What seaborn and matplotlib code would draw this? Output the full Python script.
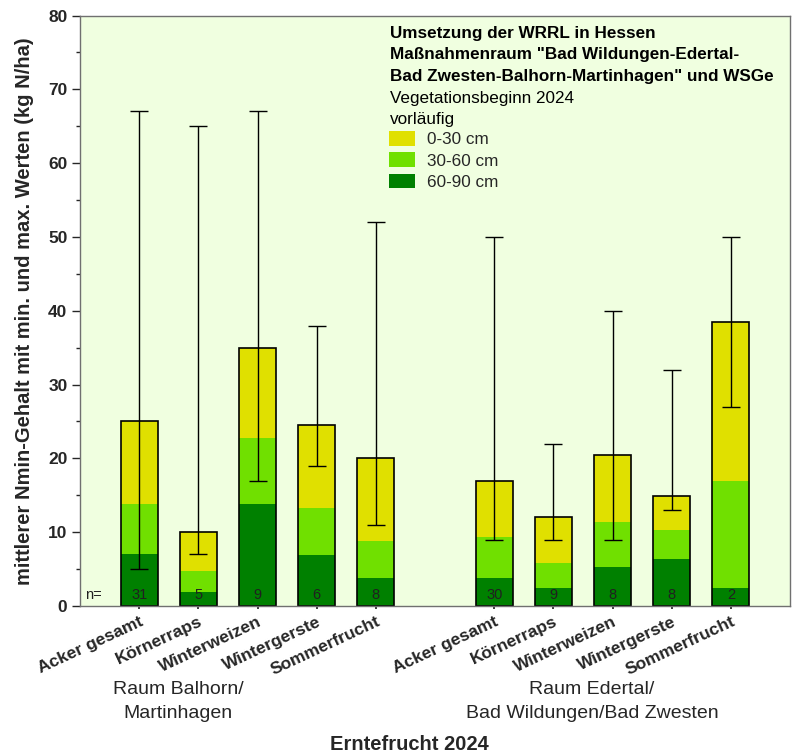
import matplotlib
matplotlib.use("Agg")
import matplotlib.pyplot as plt
from matplotlib.patches import Patch
from matplotlib.ticker import MultipleLocator
import numpy as np
import pandas as pd
import seaborn as sns

# crops per region
crops = ["Acker gesamt", "Körnerraps", "Winterweizen", "Wintergerste", "Sommerfrucht"]
regions = ["Raum Balhorn/\nMartinhagen", "Raum Edertal/\nBad Wildungen/Bad Zwesten"]
layers = ["0-30 cm", "30-60 cm", "60-90 cm"]

# Nmin per layer (kg N/ha), region Balhorn/Martinhagen
balhorn_60_90 = [7.0, 1.9, 13.8, 6.9, 3.8]
balhorn_30_60 = [6.8, 2.9, 9.0, 6.4, 5.0]
balhorn_0_30 = [11.2, 5.2, 12.2, 11.2, 11.2]
balhorn_min = [5, 7, 17, 19, 11]
balhorn_max = [67, 65, 67, 38, 52]
balhorn_n = [31, 5, 9, 6, 8]

# Nmin per layer (kg N/ha), region Edertal/Bad Wildungen/Bad Zwesten
edertal_60_90 = [3.8, 2.4, 5.3, 6.4, 2.4]
edertal_30_60 = [5.5, 3.4, 6.1, 3.9, 14.5]
edertal_0_30 = [7.7, 6.2, 9.1, 4.6, 21.6]
edertal_min = [9, 9, 9, 13, 27]
edertal_max = [50, 22, 40, 32, 50]
edertal_n = [30, 9, 8, 8, 2]

colors = {"0-30 cm": "#E0E000", "30-60 cm": "#70E000", "60-90 cm": "#008000"}

df = pd.DataFrame({
    "crop": crops * 2,
    "region": [regions[0]] * 5 + [regions[1]] * 5,
    "d60_90": balhorn_60_90 + edertal_60_90,
    "d30_60": balhorn_30_60 + edertal_30_60,
    "d0_30": balhorn_0_30 + edertal_0_30,
    "vmin": balhorn_min + edertal_min,
    "vmax": balhorn_max + edertal_max,
    "n": balhorn_n + edertal_n,
})
# one empty slot between the two regions
df["pos"] = [i for i in range(5)] + [i + 6 for i in range(5)]
df["upto60"] = df["d60_90"] + df["d30_60"]
df["total"] = df["upto60"] + df["d0_30"]

sns.set_theme(style="ticks")
plt.rcParams["font.family"] = ["Liberation Sans", "DejaVu Sans"]

fig = plt.figure(figsize=(7.94, 7.53), dpi=100)
ax = fig.add_axes([80 / 794, 1 - 606 / 753, 710 / 794, 590.5 / 753])
ax.set_facecolor("#F0FFE0")

bw = 0.625
# stacked bars drawn back to front: total, 0-60 cm, 60-90 cm
sns.barplot(data=df, x="pos", y="total", native_scale=True, width=bw,
            color=colors["0-30 cm"], saturation=1, linewidth=0, ax=ax)
sns.barplot(data=df, x="pos", y="upto60", native_scale=True, width=bw,
            color=colors["30-60 cm"], saturation=1, linewidth=0, ax=ax)
sns.barplot(data=df, x="pos", y="d60_90", native_scale=True, width=bw,
            color=colors["60-90 cm"], saturation=1, linewidth=0, ax=ax)
sns.barplot(data=df, x="pos", y="total", native_scale=True, width=bw,
            color="black", fill=False, linewidth=1.2, ax=ax)

ax.errorbar(df["pos"], df["total"],
            yerr=[df["total"] - df["vmin"], df["vmax"] - df["total"]],
            fmt="none", ecolor="black", elinewidth=1, capsize=6.5,
            capthick=1, zorder=5)

for p, n in zip(df["pos"], df["n"]):
    ax.text(p, 1.5, str(n), ha="center", va="center", fontsize=10.5,
            color="#202020", zorder=6)
ax.text(-0.78, 1.5, "n=", ha="center", va="center", fontsize=10.5, color="#202020")

ax.set_xlim(-1, 11)
ax.set_ylim(0, 80)
ax.yaxis.set_major_locator(MultipleLocator(10))
ax.yaxis.set_minor_locator(MultipleLocator(5))
ax.tick_params(axis="y", which="major", length=6, width=1, labelsize=12.5, pad=3)
ax.tick_params(axis="y", which="minor", length=3, width=1)
for lab in ax.get_yticklabels():
    lab.set_fontweight("bold")
ax.set_xticks(df["pos"])
ax.set_xticklabels(df["crop"], rotation=25, ha="right", rotation_mode="anchor",
                   fontsize=12.5, fontweight="bold")
ax.tick_params(axis="x", length=2, pad=4)
for s in ax.spines.values():
    s.set_color("#707070")
    s.set_linewidth(1)

ax.set_xlabel("")
ax.set_ylabel("mittlerer Nmin-Gehalt mit min. und max. Werten (kg N/ha)",
              fontsize=14.5, fontweight="bold", labelpad=10)

fig.text(178 / 794, 1 - 690 / 753, "Raum Balhorn/", ha="center", va="center",
         fontsize=14)
fig.text(178 / 794, 1 - 713 / 753, "Martinhagen", ha="center", va="center",
         fontsize=14)
fig.text(592 / 794, 1 - 690 / 753, "Raum Edertal/", ha="center", va="center",
         fontsize=14)
fig.text(592 / 794, 1 - 713 / 753, "Bad Wildungen/Bad Zwesten", ha="center",
         va="center", fontsize=14)
fig.text(409 / 794, 1 - 744 / 753, "Erntefrucht 2024", ha="center", va="center",
         fontsize=14.5, fontweight="bold")

title_lines = [
    ("Umsetzung der WRRL in Hessen", "bold", 38),
    ("Maßnahmenraum \"Bad Wildungen-Edertal-", "bold", 59.5),
    ("Bad Zwesten-Balhorn-Martinhagen\" und WSGe", "bold", 81),
    ("Vegetationsbeginn 2024", "normal", 102.5),
    ("vorläufig", "normal", 124),
]
for txt, w, yb in title_lines:
    fig.text(390 / 794, 1 - yb / 753, txt, ha="left", va="baseline",
             fontsize=12.3, fontweight=w, color="black")

handles = [Patch(facecolor=colors[l], edgecolor="none") for l in layers]
ax.legend(handles, layers, loc="upper left", frameon=False, fontsize=12.3,
          bbox_to_anchor=(389 / 794, 1 - 131 / 753), bbox_transform=fig.transFigure,
          borderpad=0, borderaxespad=0, handlelength=1.55, handleheight=0.95,
          handletextpad=0.7, labelspacing=0.3)

fig.savefig("out.png", dpi=100, facecolor="white")
